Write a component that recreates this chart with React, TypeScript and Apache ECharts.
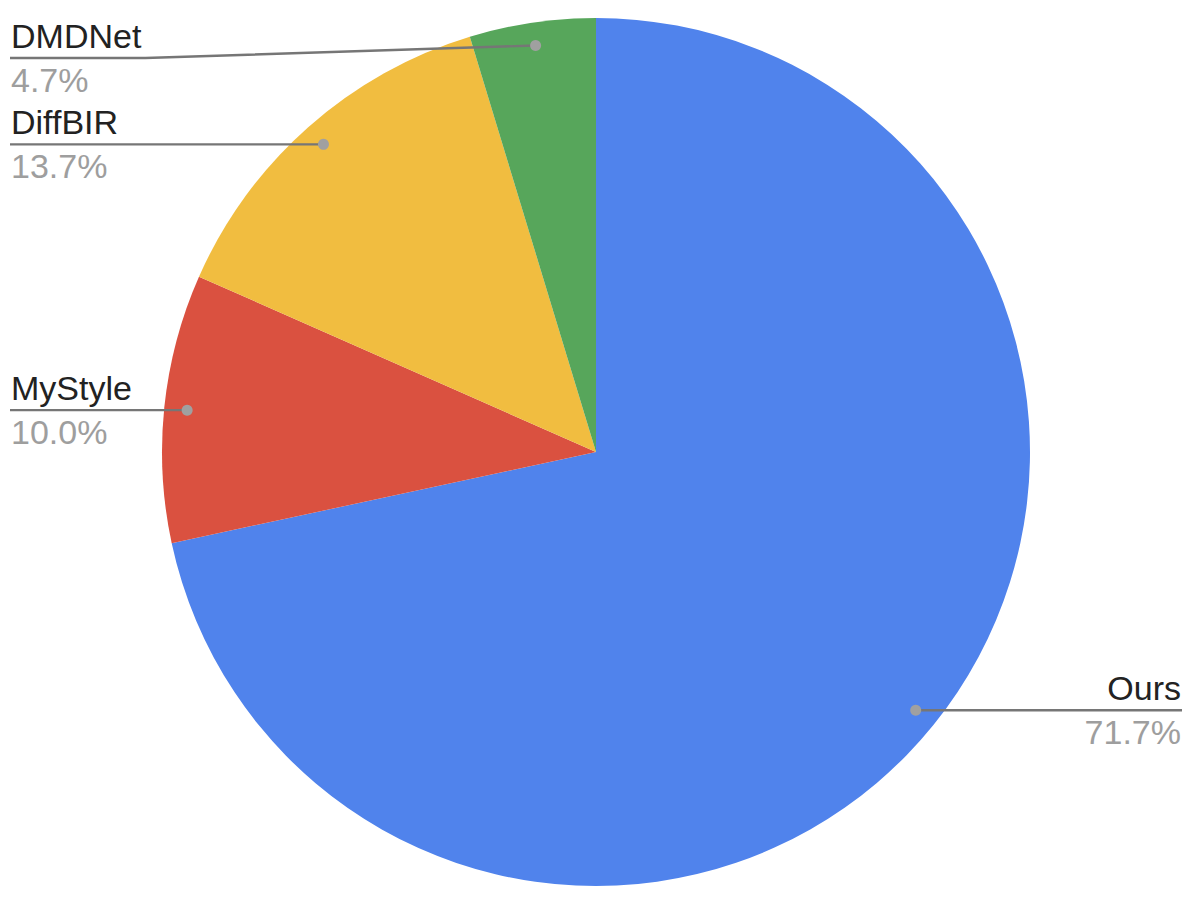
import React, { useEffect, useRef } from "react";
import * as echarts from "echarts";

const categories = ["Ours", "MyStyle", "DiffBIR", "DMDNet"];
const shares = [71.7, 10.0, 13.7, 4.7];
const colors = ["#5083EC", "#DA5140", "#F1BD40", "#57A65B"];

const W = 1198;
const H = 902;
const CX = 596;
const CY = 452;
const R = 434;
const DOT_RATIO = 0.947;
const LEFT_X = 11;
const RIGHT_X = 1181;
const MIN_LINE_Y = 58;
const FONT_SIZE = 34;
const FONT = "'Liberation Sans', Arial, Helvetica, sans-serif";

export default function App() {
  const ref = useRef<HTMLDivElement>(null);
  useEffect(() => {
    document.body.style.margin = "0";
    const chart = echarts.init(ref.current!, null, { renderer: "svg" });
    const total = shares.reduce((a, b) => a + b, 0);
    const ctx = document.createElement("canvas").getContext("2d")!;
    ctx.font = `${FONT_SIZE}px ${FONT}`;
    let acc = 0;
    const anchors = shares.map((v, i) => {
      const mid = ((acc + v / 2) / total) * 2 * Math.PI;
      acc += v;
      const x = CX + Math.sin(mid) * R * DOT_RATIO;
      const y = CY - Math.cos(mid) * R * DOT_RATIO;
      const right = Math.sin(mid) > 0;
      const lineY = Math.max(y, MIN_LINE_Y);
      const nameW = ctx.measureText(categories[i]).width;
      const points = right
        ? [[x, y], [RIGHT_X + 1, lineY]]
        : [[x, y], [LEFT_X + nameW + 4, lineY], [LEFT_X - 1, lineY]];
      return { x, y, right, lineY, points };
    });
    chart.setOption({
      animation: false,
      backgroundColor: "#ffffff",
      series: [
        {
          type: "pie",
          center: [CX, CY],
          radius: [0, R],
          startAngle: 90,
          clockwise: true,
          silent: true,
          avoidLabelOverlap: false,
          emphasis: { disabled: true },
          itemStyle: { borderWidth: 0 },
          data: categories.map((name, i) => ({
            name,
            value: shares[i],
            itemStyle: { color: colors[i] },
          })),
          label: {
            show: true,
            position: "outside",
            formatter: (p: any) => `{n|${p.name}}\n{p|${Number(p.value).toFixed(1)}%}`,
            rich: {
              n: { fontSize: FONT_SIZE, lineHeight: 44, color: "#222222", fontFamily: FONT },
              p: { fontSize: FONT_SIZE, lineHeight: 44, color: "#9e9e9e", fontFamily: FONT },
            },
          },
          labelLine: { show: false },
          labelLayout: (p: any) => {
            const a = anchors[p.dataIndex];
            return {
              x: a.right ? RIGHT_X : LEFT_X,
              y: a.lineY,
              align: a.right ? "right" : "left",
              verticalAlign: "middle",
            };
          },
        },
      ],
      graphic: [
        ...anchors.map((a) => ({
          type: "polyline",
          z: 99,
          shape: { points: a.points },
          style: { stroke: "#767676", lineWidth: 2.4, fill: null },
        })),
        ...anchors.map((a) => ({
          type: "circle",
          z: 100,
          shape: { cx: a.x, cy: a.y, r: 5.5 },
          style: { fill: "#a0a0a0" },
        })),
      ],
    });
    return () => chart.dispose();
  }, []);
  return <div ref={ref} style={{ width: W, height: H }} />;
}
